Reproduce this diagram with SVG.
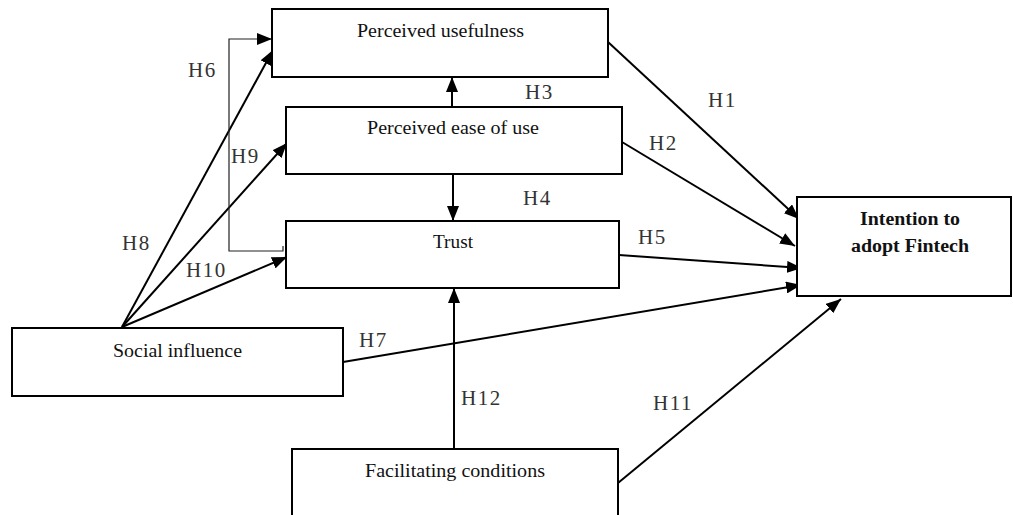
<svg xmlns="http://www.w3.org/2000/svg" width="1013" height="515" viewBox="0 0 1013 515">
<style>
.box{fill:#fff;stroke:#000;stroke-width:2}
.t{font-family:"Liberation Serif","Times New Roman",serif;font-size:18px;fill:#111;text-anchor:middle}
.b{font-weight:bold}
.h{font-family:"Liberation Serif","Times New Roman",serif;font-size:21px;fill:#333;letter-spacing:1.5px}
.c{stroke:#000;stroke-width:2;fill:none;marker-end:url(#ah)}
.thin{stroke:#222;stroke-width:1.2;fill:none;marker-end:url(#ah)}
</style>
<defs>
<marker id="ah" markerUnits="userSpaceOnUse" markerWidth="16" markerHeight="12" refX="15" refY="6" orient="auto">
<path d="M0,0 L15,6 L0,12 z" fill="#000"/>
</marker>
</defs>
<g id="connectors">
<line class="c" x1="608" y1="42" x2="799" y2="219"/>
<line class="c" x1="622" y1="142" x2="795" y2="246"/>
<line class="c" x1="452" y1="107" x2="452" y2="77"/>
<line class="c" x1="453" y1="174" x2="453" y2="221"/>
<line class="c" x1="619" y1="255" x2="802" y2="268"/>
<line class="c" x1="343" y1="362" x2="801" y2="285"/>
<line class="c" x1="618" y1="483" x2="841" y2="299"/>
<line class="c" x1="454" y1="449" x2="454" y2="288"/>
<line class="c" x1="122" y1="327" x2="273" y2="50"/>
<line class="c" x1="122" y1="327" x2="287" y2="143"/>
<line class="c" x1="122" y1="327" x2="287" y2="257"/>
<polyline class="thin" points="283,246 283,251 229,251 229,39 272,39"/>
</g>
<g id="labels">
<text class="h" x="188" y="77">H6</text>
<text class="h" x="525" y="99">H3</text>
<text class="h" x="708" y="107">H1</text>
<text class="h" x="231" y="163">H9</text>
<text class="h" x="649" y="150">H2</text>
<text class="h" x="523" y="205">H4</text>
<text class="h" x="122" y="250">H8</text>
<text class="h" x="186" y="277">H10</text>
<text class="h" x="638" y="244">H5</text>
<text class="h" x="359" y="347">H7</text>
<text class="h" x="461" y="405">H12</text>
<text class="h" x="653" y="410">H11</text>
</g>
<g id="perceived-usefulness">
<rect class="box" x="272" y="9" width="336" height="68"/>
<text class="t" x="440.5" y="37" textLength="167" lengthAdjust="spacingAndGlyphs">Perceived usefulness</text>
</g>
<g id="perceived-ease-of-use">
<rect class="box" x="286" y="107" width="336" height="67"/>
<text class="t" x="453" y="134" textLength="172" lengthAdjust="spacingAndGlyphs">Perceived ease of use</text>
</g>
<g id="trust">
<rect class="box" x="286" y="221" width="333" height="67"/>
<text class="t" x="453" y="248" textLength="40" lengthAdjust="spacingAndGlyphs">Trust</text>
</g>
<g id="social-influence">
<rect class="box" x="12" y="328" width="331" height="68"/>
<text class="t" x="177.5" y="357" textLength="129" lengthAdjust="spacingAndGlyphs">Social influence</text>
</g>
<g id="facilitating-conditions">
<rect class="box" x="292" y="449" width="326" height="75"/>
<text class="t" x="455" y="477" textLength="180" lengthAdjust="spacingAndGlyphs">Facilitating conditions</text>
</g>
<g id="intention">
<rect class="box" x="797" y="197" width="214" height="99"/>
<text class="t b" x="910" y="225" textLength="100" lengthAdjust="spacingAndGlyphs">Intention to</text>
<text class="t b" x="910" y="252" textLength="118" lengthAdjust="spacingAndGlyphs">adopt Fintech</text>
</g>
</svg>
